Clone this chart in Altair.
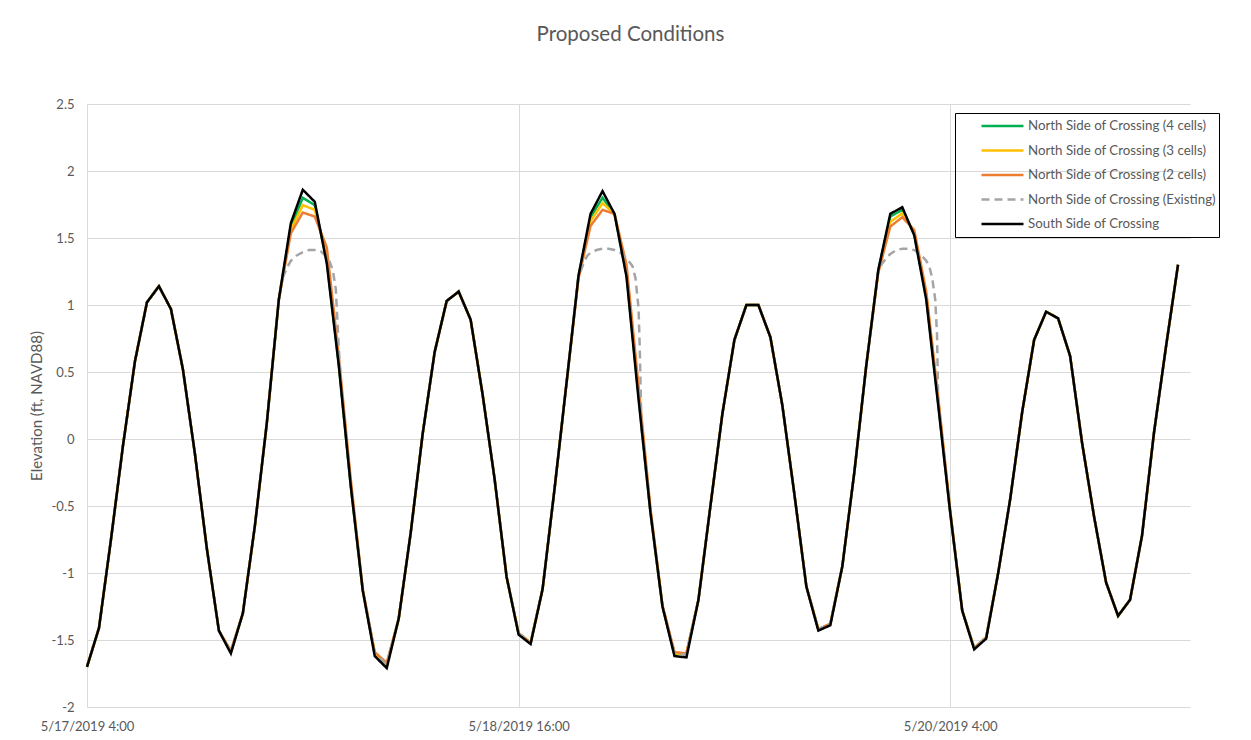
import altair as alt
import pandas as pd

# ---- data (hours since 5/17/2019 4:00) ----
hours = list(range(92))

south = [-1.70, -1.41, -0.75, -0.05, 0.58, 1.02, 1.14, 0.97, 0.52, -0.11,
         -0.82, -1.43, -1.60, -1.30, -0.65, 0.12, 1.04, 1.61, 1.86, 1.77,
         1.31, 0.55, -0.35, -1.13, -1.62, -1.71, -1.34, -0.70, 0.04, 0.65,
         1.03, 1.10, 0.89, 0.33, -0.30, -1.03, -1.46, -1.53, -1.12, -0.37,
         0.42, 1.22, 1.68, 1.85, 1.68, 1.21, 0.30, -0.55, -1.25, -1.62,
         -1.63, -1.20, -0.50, 0.19, 0.74, 1.00, 1.00, 0.76, 0.25, -0.41,
         -1.10, -1.43, -1.39, -0.95, -0.25, 0.55, 1.26, 1.68, 1.73, 1.52,
         1.04, 0.25, -0.55, -1.28, -1.57, -1.49, -1.00, -0.45, 0.20, 0.74,
         0.95, 0.90, 0.62, -0.03, -0.58, -1.07, -1.32, -1.20, -0.72, 0.05,
         0.69, 1.30]

north4 = [-1.70, -1.41, -0.75, -0.05, 0.58, 1.02, 1.14, 0.97, 0.52, -0.11,
          -0.82, -1.43, -1.59, -1.30, -0.65, 0.12, 1.04, 1.585, 1.80, 1.745,
          1.33, 0.56, -0.35, -1.13, -1.60, -1.69, -1.34, -0.70, 0.04, 0.65,
          1.03, 1.10, 0.89, 0.33, -0.30, -1.03, -1.45, -1.52, -1.12, -0.37,
          0.42, 1.22, 1.655, 1.80, 1.68, 1.23, 0.33, -0.55, -1.25, -1.60,
          -1.60, -1.20, -0.50, 0.19, 0.74, 1.00, 1.00, 0.76, 0.25, -0.41,
          -1.10, -1.42, -1.38, -0.95, -0.25, 0.55, 1.26, 1.66, 1.71, 1.53,
          1.06, 0.27, -0.55, -1.28, -1.56, -1.48, -1.00, -0.45, 0.20, 0.74,
          0.95, 0.90, 0.62, -0.03, -0.58, -1.07, -1.32, -1.20, -0.72, 0.05,
          0.69, 1.30]

north3 = [-1.70, -1.41, -0.75, -0.05, 0.58, 1.02, 1.14, 0.97, 0.52, -0.11,
          -0.82, -1.43, -1.59, -1.30, -0.65, 0.12, 1.04, 1.56, 1.745, 1.71,
          1.37, 0.58, -0.34, -1.13, -1.60, -1.68, -1.34, -0.70, 0.04, 0.65,
          1.03, 1.10, 0.89, 0.33, -0.30, -1.03, -1.45, -1.52, -1.12, -0.37,
          0.42, 1.21, 1.625, 1.76, 1.68, 1.26, 0.36, -0.54, -1.25, -1.60,
          -1.60, -1.20, -0.50, 0.19, 0.74, 1.00, 1.00, 0.76, 0.25, -0.41,
          -1.10, -1.42, -1.38, -0.95, -0.25, 0.55, 1.25, 1.62, 1.685, 1.54,
          1.08, 0.29, -0.54, -1.28, -1.56, -1.48, -1.00, -0.45, 0.20, 0.74,
          0.95, 0.90, 0.62, -0.03, -0.58, -1.07, -1.32, -1.20, -0.72, 0.05,
          0.69, 1.30]

north2 = [-1.70, -1.41, -0.75, -0.05, 0.58, 1.02, 1.14, 0.97, 0.52, -0.11,
          -0.82, -1.43, -1.58, -1.30, -0.65, 0.12, 1.04, 1.535, 1.69, 1.66,
          1.43, 0.62, -0.30, -1.12, -1.59, -1.67, -1.34, -0.70, 0.04, 0.65,
          1.03, 1.10, 0.89, 0.33, -0.30, -1.03, -1.45, -1.52, -1.12, -0.37,
          0.42, 1.20, 1.59, 1.71, 1.68, 1.30, 0.40, -0.52, -1.24, -1.59,
          -1.60, -1.20, -0.50, 0.19, 0.74, 1.00, 1.00, 0.76, 0.25, -0.41,
          -1.10, -1.42, -1.38, -0.95, -0.25, 0.55, 1.24, 1.585, 1.655, 1.56,
          1.10, 0.31, -0.53, -1.28, -1.56, -1.48, -1.00, -0.45, 0.20, 0.74,
          0.95, 0.90, 0.62, -0.03, -0.58, -1.07, -1.32, -1.20, -0.72, 0.05,
          0.69, 1.30]

existing_hours = [0, 1, 2, 3, 4, 5, 6, 7, 8, 9, 10, 11, 12, 13, 14, 15, 16,
                  16.25, 16.5, 16.75, 17, 17.5, 18, 18.5, 19, 19.5, 20, 20.25,
                  20.5, 20.75, 21, 21.25,
                  22, 23, 24, 25, 26, 27, 28, 29, 30, 31, 32, 33, 34, 35, 36,
                  37, 38, 39, 40, 41,
                  41.25, 41.5, 41.75, 42, 42.5, 43, 43.5, 44, 44.5, 45, 45.5,
                  45.75, 46, 46.1, 46.25,
                  47, 48, 49, 50, 51, 52, 53, 54, 55, 56, 57, 58, 59, 60, 61,
                  62, 63, 64, 65, 66,
                  66.25, 66.5, 66.75, 67, 67.5, 68, 68.5, 69, 69.5, 70, 70.25,
                  70.5, 70.75, 70.9, 71,
                  72, 73, 74, 75, 76, 77, 78, 79, 80, 81, 82, 83, 84, 85, 86,
                  87, 88, 89, 90, 91]

existing = [-1.70, -1.41, -0.75, -0.05, 0.58, 1.02, 1.14, 0.97, 0.52, -0.11,
            -0.82, -1.43, -1.59, -1.30, -0.65, 0.12, 1.04,
            1.19, 1.24, 1.29, 1.33, 1.37, 1.395, 1.41, 1.41, 1.40, 1.36, 1.32,
            1.26, 1.12, 0.68, 0.33,
            -0.35, -1.13, -1.60, -1.68, -1.34, -0.70, 0.04, 0.65, 1.03, 1.10,
            0.89, 0.33, -0.30, -1.03, -1.45, -1.52, -1.12, -0.37, 0.42, 1.22,
            1.27, 1.33, 1.37, 1.39, 1.41, 1.42, 1.42, 1.41, 1.39, 1.35, 1.29,
            1.20, 0.98, 0.70, 0.08,
            -0.55, -1.25, -1.60, -1.61, -1.20, -0.50, 0.19, 0.74, 1.00, 1.00,
            0.76, 0.25, -0.41, -1.10, -1.42, -1.38, -0.95, -0.25, 0.55, 1.26,
            1.30, 1.33, 1.36, 1.38, 1.41, 1.42, 1.42, 1.41, 1.38, 1.33, 1.29,
            1.20, 1.04, 0.78, 0.27,
            -0.55, -1.28, -1.56, -1.48, -1.00, -0.45, 0.20, 0.74, 0.95, 0.90,
            0.62, -0.03, -0.58, -1.07, -1.32, -1.20, -0.72, 0.05, 0.69, 1.30]

series_names = ["North Side of Crossing (4 cells)",
                "North Side of Crossing (3 cells)",
                "North Side of Crossing (2 cells)",
                "North Side of Crossing (Existing)",
                "South Side of Crossing"]
series_colors = ["#00B050", "#FFC000", "#ED7D31", "#A5A5A5", "#000000"]
series_widths = [2.5, 2.5, 2.5, 2.5, 1.4]
series_dashes = [[1, 0], [1, 0], [1, 0], [8, 5], [1, 0]]

x_tick_hours = [0, 36, 72]
x_tick_labels = ["5/17/2019 4:00", "5/18/2019 16:00", "5/20/2019 4:00"]
y_ticks = [-2, -1.5, -1, -0.5, 0, 0.5, 1, 1.5, 2, 2.5]

# ---- long table ----
frames = []
for name, vals in zip(series_names[:3], [north4, north3, north2]):
    frames.append(pd.DataFrame({"hour": hours, "value": vals, "series": name}))
frames.append(pd.DataFrame({"hour": existing_hours, "value": existing,
                            "series": series_names[3]}))
frames.append(pd.DataFrame({"hour": hours, "value": south, "series": series_names[4]}))
df = pd.concat(frames, ignore_index=True)

label_expr = " : ".join(
    [f"datum.value == {h} ? '{l}'" for h, l in zip(x_tick_hours, x_tick_labels)]
) + " : ''"

txt = "#595959"
grid = "#D9D9D9"
font = "Lato"

legend = alt.Legend(
    title=None, orient="none", legendX=868, legendY=9,
    strokeColor="black", padding=3, symbolType="stroke",
    symbolSize=1764, labelFontSize=13.3, labelColor=txt, labelFont=font,
    labelLimit=0, clipHeight=20, rowPadding=4.5, labelOffset=3, symbolOffset=22,
)

chart = alt.Chart(df).mark_line().encode(
    x=alt.X("hour:Q", scale=alt.Scale(domain=[0, 92], nice=False, zero=False),
            axis=alt.Axis(values=x_tick_hours, labelExpr=label_expr, title=None,
                          grid=True, gridColor=grid, ticks=False, domain=False,
                          labelFlush=False, labelOverlap=False, labelPadding=13,
                          labelFontSize=13, labelColor=txt, labelFont=font)),
    y=alt.Y("value:Q", scale=alt.Scale(domain=[-2, 2.5], nice=False, zero=False),
            axis=alt.Axis(values=y_ticks, labelExpr="'' + datum.value",
                          title="Elevation (ft, NAVD88)", titleFontSize=15,
                          titleFontWeight="normal", titleColor=txt, titleFont=font,
                          titlePadding=7, grid=True, gridColor=grid, ticks=False,
                          domain=False, labelPadding=13, labelFontSize=13,
                          labelColor=txt, labelFont=font)),
    color=alt.Color("series:N", scale=alt.Scale(domain=series_names, range=series_colors),
                    legend=legend),
    strokeDash=alt.StrokeDash("series:N", scale=alt.Scale(domain=series_names, range=series_dashes),
                              legend=legend),
    strokeWidth=alt.StrokeWidth("series:N", scale=alt.Scale(domain=series_names, range=series_widths),
                                legend=legend),
).properties(
    width=1103, height=603,
    title=alt.TitleParams("Proposed Conditions", fontSize=20.5, fontWeight="normal",
                          color=txt, font=font, anchor="middle", offset=53, dx=-8),
    autosize=alt.AutoSizeParams(type="none"),
    padding={"left": 79, "top": 96, "right": 53, "bottom": 25},
).configure_view(stroke=None)

chart.save("out.html", embed_options={"renderer": "svg", "actions": False})
